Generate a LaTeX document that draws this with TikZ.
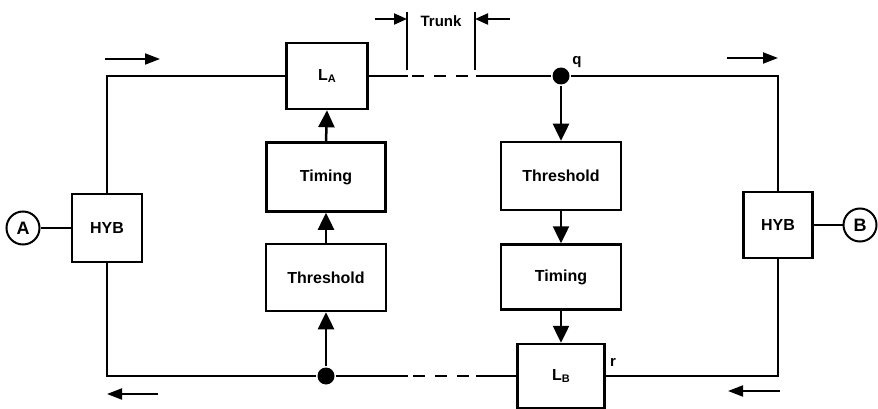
\documentclass[tikz,border=0pt]{standalone}
\usepackage{fontspec}
\setmainfont{Liberation Sans}
\usetikzlibrary{arrows.meta}
\begin{document}
\begin{tikzpicture}[x=1pt,y=-1pt,
  line width=2.5pt,
  blk/.style={draw, line width=2.5pt, rectangle, inner sep=0pt, font=\bfseries\fontsize{16}{18}\selectfont},
  term/.style={draw, circle, line width=2pt, minimum size=33pt, inner sep=0pt, font=\bfseries\fontsize{18}{18}\selectfont},
  big/.style={-{Triangle[width=16pt,length=17pt]}},
  dir/.style={line width=2pt, -{Triangle[width=11pt,length=15pt]}},
  tdir/.style={line width=2pt, -{Triangle[width=11pt,length=13pt]}},
  dot/.style={circle, fill, inner sep=0pt, minimum size=17pt},
  lbl/.style={font=\bfseries\fontsize{15}{16}\selectfont},
  trunkdash/.style={dash pattern=on 12pt off 10pt}
]
\useasboundingbox (0,0) rectangle (878,409);
% blocks
\node[blk, minimum width=70pt, minimum height=68pt] (hybA) at (107,228) {HYB};
\node[term] (A) at (23,228) {A};
\node[blk, minimum width=69pt, minimum height=66pt] (hybB) at (778,225) {HYB};
\node[term] (B) at (860,225) {B};
\node[blk, minimum width=81pt, minimum height=66pt] (LA) at (327,76) {L\raisebox{-2.5pt}{\fontsize{11}{11}\selectfont A}};
\node[blk, minimum width=119pt, minimum height=69pt] (timL) at (326,177) {Timing};
\node[blk, minimum width=120pt, minimum height=67pt] (thrL) at (326,277.5) {Threshold};
\node[blk, minimum width=120pt, minimum height=68pt] (thrR) at (561,176) {Threshold};
\node[blk, minimum width=120pt, minimum height=65pt] (timR) at (561,277) {Timing};
\node[blk, minimum width=87pt, minimum height=64pt] (LB) at (561,376) {L\raisebox{-2.5pt}{\fontsize{11}{11}\selectfont B}};
% junctions
\node[dot] (q) at (561,76) {};
\node[dot] (p) at (326,376) {};
\node[lbl] (ql) at (577,62) {q};
\node[lbl] (rl) at (613,362) {r};
% corner / dash coordinates
\coordinate (tl) at (107,76);
\coordinate (tr) at (778,76);
\coordinate (bl) at (107,376);
\coordinate (br) at (778,376);
\coordinate (ts1) at (408,76);
\coordinate (td1) at (412,76);
\coordinate (td2) at (468,76);
\coordinate (ts2) at (476,76);
\coordinate (bs1) at (408,376);
\coordinate (bd1) at (413,376);
\coordinate (bd2) at (469,376);
\coordinate (bs2) at (476,376);
% loop
\draw (A) -- (hybA);
\draw (hybB) -- (B);
\draw (hybA.north) -- (tl) -- (LA.west);
\draw (LA.east) -- (ts1);
\draw[trunkdash] (td1) -- (td2);
\draw (ts2) -- (q) -- (tr) -- (hybB.north);
\draw (hybA.south) -- (bl) -- (p) -- (bs1);
\draw[trunkdash] (bd1) -- (bd2);
\draw (bs2) -- (LB.west);
\draw (LB.east) -- (br) -- (hybB.south);
% control arrows
\draw[big] (p) -- (thrL.south);
\draw[big] (thrL.north) -- (timL.south);
\draw[big] (timL.north) -- (LA.south);
\draw[big] (q) -- (thrR.north);
\draw[big] (thrR.south) -- (timR.north);
\draw[big] (timR.south) -- (LB.north);
% trunk marker
\coordinate (k1t) at (407,12);
\coordinate (k1b) at (407,70);
\coordinate (k2t) at (475,12);
\coordinate (k2b) at (475,70);
\draw[line width=2pt] (k1t) -- (k1b);
\draw[line width=2pt] (k2t) -- (k2b);
\coordinate (ka) at (375,19);
\coordinate (kb) at (510,19);
\draw[tdir] (ka) -- (ka -| k1t);
\draw[tdir] (kb) -- (kb -| k2t);
\node[lbl] (trunk) at (441,21) {Trunk};
% direction arrows
\coordinate (d1s) at (105,59);
\coordinate (d1e) at (160,59);
\coordinate (d2s) at (727,58);
\coordinate (d2e) at (778,58);
\coordinate (d3s) at (158,394);
\coordinate (d3e) at (107,394);
\coordinate (d4s) at (780,391);
\coordinate (d4e) at (728,391);
\draw[dir] (d1s) -- (d1e);
\draw[dir] (d2s) -- (d2e);
\draw[dir] (d3s) -- (d3e);
\draw[dir] (d4s) -- (d4e);
\end{tikzpicture}
\end{document}
